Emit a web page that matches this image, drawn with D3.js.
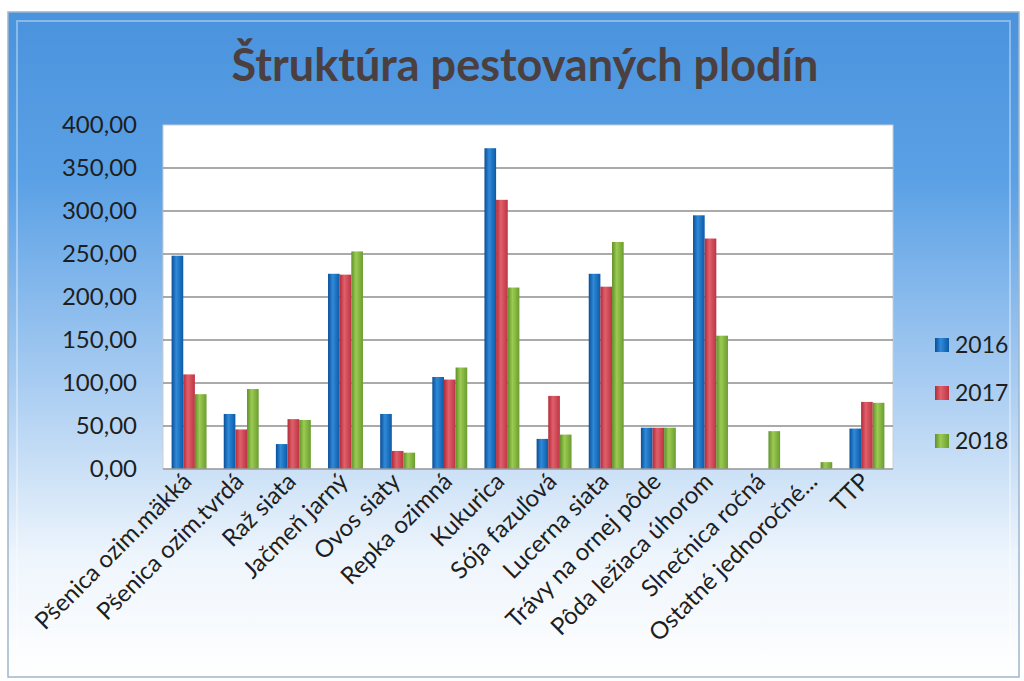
<!DOCTYPE html>
<html>
<head>
<meta charset="utf-8">
<script src="https://cdn.jsdelivr.net/npm/d3@7"></script>
<style>
  body { margin: 0; background: #fff; }
  text { font-family: Lato, "Open Sans", sans-serif; }
</style>
</head>
<body>
<div id="chart"></div>
<script>
// data
const categories = ["Pšenica ozim.mäkká", "Pšenica ozim.tvrdá", "Raž siata", "Jačmeň jarný", "Ovos siaty",
    "Repka ozimná", "Kukurica", "Sója fazuľová", "Lucerna siata", "Trávy na ornej pôde",
    "Pôda ležiaca úhorom", "Slnečnica ročná", "Ostatné jednoročné...", "TTP"];
const years = ["2016", "2017", "2018"];
const values2016 = [248, 64, 29, 227, 64, 107, 373, 35, 227, 48, 295, 0, 0, 47];
const values2017 = [110, 46, 58, 226, 21, 104, 313, 85, 212, 48, 268, 0, 0, 78];
const values2018 = [87, 93, 57, 253, 19, 118, 211, 40, 264, 48, 155, 44, 8, 77];
const yTicks = [0, 50, 100, 150, 200, 250, 300, 350, 400];

const series = [values2016, values2017, values2018];

const W = 1024, H = 681;
const margin = { top: 125, left: 163, right: 131, bottom: 212 };
const width = W - margin.left - margin.right;
const height = H - margin.top - margin.bottom;

const svg = d3.select("#chart").append("svg")
    .attr("width", W)
    .attr("height", H);

const defs = svg.append("defs");

// background gradient of the chart frame
let bg = defs.append("linearGradient").attr("id", "bg")
    .attr("x1", 0).attr("y1", 0).attr("x2", 0).attr("y2", 1);
bg.append("stop").attr("offset", "0%").attr("stop-color", "#4a93dd");
bg.append("stop").attr("offset", "25%").attr("stop-color", "#5aa0e5");
bg.append("stop").attr("offset", "55%").attr("stop-color", "#a6cbf1");
bg.append("stop").attr("offset", "82%").attr("stop-color", "#eef5fc");
bg.append("stop").attr("offset", "100%").attr("stop-color", "#ffffff");

// cylinder-ish shading for bars
const barColors = [
    ["#0a4e98", "#2f8ad8", "#0c5aa8"],
    ["#b22a38", "#e0606c", "#bd3442"],
    ["#5f8f2a", "#9ccb52", "#6a9c30"]
];
barColors.forEach((c, i) => {
    let g = defs.append("linearGradient").attr("id", "bar" + i)
        .attr("x1", 0).attr("y1", 0).attr("x2", 1).attr("y2", 0);
    g.append("stop").attr("offset", "0%").attr("stop-color", c[0]);
    g.append("stop").attr("offset", "40%").attr("stop-color", c[1]);
    g.append("stop").attr("offset", "100%").attr("stop-color", c[2]);
});

// chart frame
svg.append("rect")
    .attr("x", 8).attr("y", 12)
    .attr("width", 1011).attr("height", 665)
    .attr("fill", "url(#bg)")
    .attr("stroke", "#9fb6cc")
    .attr("stroke-width", 1.5);
svg.append("rect")
    .attr("x", 17).attr("y", 21)
    .attr("width", 993).attr("height", 647)
    .attr("fill", "none")
    .attr("stroke", "rgba(255,255,255,0.35)")
    .attr("stroke-width", 2);

// title
svg.append("text")
    .attr("x", 525).attr("y", 81)
    .attr("text-anchor", "middle")
    .attr("font-size", 45)
    .attr("font-weight", "bold")
    .attr("fill", "#4b3f40")
    .text("Štruktúra pestovaných plodín");

const g = svg.append("g")
    .attr("transform", "translate(" + margin.left + "," + margin.top + ")");

// plot area
g.append("rect")
    .attr("width", width).attr("height", height)
    .attr("fill", "#ffffff")
    .attr("stroke", "#c9ced4");

// scales
const x = d3.scaleBand().domain(categories).range([0, width]).paddingInner(0.33).paddingOuter(0.165);
const x1 = d3.scaleBand().domain(years).range([0, x.bandwidth()]);
const y = d3.scaleLinear().domain([0, 400]).range([height, 0]);

// gridlines
g.append("g").selectAll("line")
    .data(yTicks.slice(1, -1))
    .enter().append("line")
    .attr("x1", 0).attr("x2", width)
    .attr("y1", d => y(d)).attr("y2", d => y(d))
    .attr("stroke", "#8e8e8e")
    .attr("stroke-width", 1.5);

// y axis
const yAxis = d3.axisLeft(y).tickValues(yTicks).tickSize(0).tickPadding(26)
    .tickFormat(d => d3.format(".2f")(d).replace(".", ","));
const yAxisGroup = g.append("g").call(yAxis);
yAxisGroup.select(".domain").remove();
yAxisGroup.selectAll("text")
    .attr("font-size", 24)
    .attr("fill", "#1e1e1e")
    .style("font-family", "Lato, 'Open Sans', sans-serif");

// bars
const groups = g.append("g").selectAll("g")
    .data(categories)
    .enter().append("g")
    .attr("transform", d => "translate(" + x(d) + ",0)");

groups.selectAll("rect")
    .data((d, ci) => years.map((yr, si) => ({ year: yr, si: si, value: series[si][ci] })))
    .enter().append("rect")
    .attr("x", d => x1(d.year))
    .attr("y", d => y(d.value))
    .attr("width", x1.bandwidth())
    .attr("height", d => height - y(d.value))
    .attr("fill", d => "url(#bar" + d.si + ")");

// x axis
g.append("line")
    .attr("x1", 0).attr("x2", width)
    .attr("y1", height).attr("y2", height)
    .attr("stroke", "#9a9a9a")
    .attr("stroke-width", 1.5);

g.append("g").selectAll("text")
    .data(categories)
    .enter().append("text")
    .attr("transform", d => "translate(" + (x(d) + x.bandwidth() / 2 + 4) + "," + (height + 14) + ") rotate(-45)")
    .attr("text-anchor", "end")
    .attr("font-size", 24)
    .attr("fill", "#1e1e1e")
    .text(d => d);

// legend
const legend = svg.append("g").attr("transform", "translate(935,345)");
years.forEach((yr, i) => {
    legend.append("rect")
        .attr("x", 0).attr("y", i * 48 - 7)
        .attr("width", 14).attr("height", 14)
        .attr("fill", "url(#bar" + i + ")");
    legend.append("text")
        .attr("x", 20).attr("y", i * 48 + 8)
        .attr("font-size", 23)
        .attr("fill", "#1e1e1e")
        .text(yr);
});
</script>
</body>
</html>
